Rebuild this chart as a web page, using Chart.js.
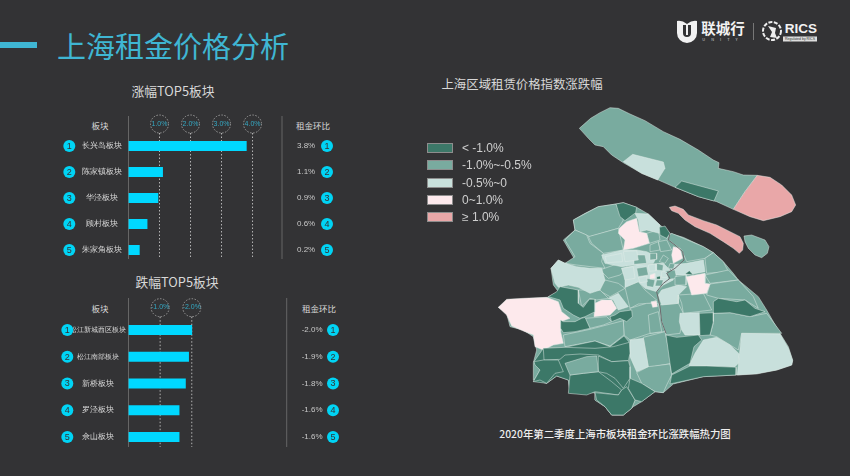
<!DOCTYPE html>
<html>
<head>
<meta charset="utf-8">
<script src="https://cdn.jsdelivr.net/npm/chart.js@4"></script>
<style>
  html, body { margin: 0; padding: 0; }
  body { width: 850px; height: 476px; background: #333335; overflow: hidden; position: relative;
         font-family: "Noto Sans CJK SC", "Noto Sans", sans-serif; }
  canvas { position: absolute; }
  .txt { position: absolute; white-space: nowrap; transform: translate(-50%, -50%); color: #d8d8d8; line-height: 1; }
  .swatch { position: absolute; left: 427px; width: 24px; height: 8px; border: 1px solid #8d8d8d; }
  .legend-label { position: absolute; left: 462px; transform: translateY(-50%); color: #cfcfcf; line-height: 1;
                  font: 12px "Liberation Sans", sans-serif; white-space: nowrap; }
</style>
</head>
<body>
<div style="position:absolute;left:0;top:42px;width:37px;height:6px;background:#3fb6d3"></div>
<div class="txt" style="left:173px;top:45px;font-size:29px;color:#3fb6d3">上海租金价格分析</div>

<div class="txt" style="left:173px;top:91px;font-size:12.8px">涨幅TOP5板块</div>
<div class="txt" style="left:100px;top:125px;font-size:8.5px">板块</div>
<div class="txt" style="left:313px;top:125px;font-size:8.5px">租金环比</div>
<div class="txt" style="left:177px;top:282px;font-size:12.8px">跌幅TOP5板块</div>
<div class="txt" style="left:100px;top:308px;font-size:8.5px">板块</div>
<div class="txt" style="left:319px;top:308px;font-size:8.5px">租金环比</div>
<div class="txt" style="left:522px;top:84px;font-size:12.4px">上海区域租赁价格指数涨跌幅</div>
<div class="txt" style="left:615px;top:434px;font-size:10.4px;font-weight:500;color:#eee">2020年第二季度上海市板块租金环比涨跌幅热力图</div>

<!-- logo -->
<svg style="position:absolute;left:674px;top:18px" width="26" height="26" viewBox="0 0 26 26">
  <path d="M3 3 Q8 2 13 6 Q18 2 23 3 V15 A10 10 0 0 1 3 15 Z" fill="#f2f2f2"/>
  <path d="M9 7 h8 v8 a4 4 0 0 1 -8 0 Z" fill="#333335"/>
  <rect x="12" y="6" width="2" height="11" fill="#f2f2f2"/>
</svg>
<div class="txt" style="left:723px;top:28px;font-size:14.5px;font-weight:700;color:#f2f2f2">联城行</div>
<div class="txt" style="left:723px;top:39px;font-size:4px;letter-spacing:6px;color:#ccc">UNITY</div>
<div style="position:absolute;left:753px;top:23px;width:1px;height:17px;background:#777"></div>
<svg style="position:absolute;left:761px;top:19px" width="22" height="24" viewBox="0 0 22 24">
  <circle cx="11" cy="12" r="9" fill="none" stroke="#eee" stroke-width="2" stroke-dasharray="4 1.5"/>
  <path d="M7 7 L15 9 L14 14 L16 19 L9 18 L11 13 Z" fill="#eee"/>
</svg>
<div class="txt" style="left:801px;top:28px;font:700 13.5px 'Liberation Sans',sans-serif;color:#f2f2f2">RICS</div>
<div class="txt" style="left:800px;top:39px;width:34px;height:5px;background:#ddd;font:3.5px 'Liberation Sans',sans-serif;line-height:5px;color:#333;text-align:center">Regulated by RICS</div>

<canvas id="riseChart" style="left:50px;top:100px"></canvas>
<canvas id="fallChart" style="left:50px;top:280px"></canvas>
<canvas id="mapChart" style="left:490px;top:100px"></canvas>

<div id="legend"></div>

<script>
// Top 5 risers
const riseNames = ["长兴岛板块", "陈家镇板块", "华泾板块", "顾村板块", "朱家角板块"];
const riseBars = [3.8, 1.1, 0.95, 0.6, 0.35];
const riseLabels = ["3.8%", "1.1%", "0.9%", "0.6%", "0.2%"];
const riseTicks = [1, 2, 3, 4];

// Top 5 fallers
const fallNames = ["松江新城西区板块", "松江南部板块", "新桥板块", "罗泾板块", "佘山板块"];
const fallBars = [-2.0, -1.9, -1.8, -1.6, -1.6];
const fallLabels = ["-2.0%", "-1.9%", "-1.8%", "-1.6%", "-1.6%"];
const fallTicks = [-1, -2];

// Legend
const legendNames = ["< -1.0%", "-1.0%~-0.5%", "-0.5%~0", "0~1.0%", "≥ 1.0%"];
const legendColors = ["#3c7868", "#79ab9f", "#c8e0dc", "#fde9ec", "#e9a7a8"];

// Map regions in map units, one list per colour class
const midRegions = [
  [[268,-215],[285,-230],[302,-245],[330,-262],[360,-277],[385,-275],[420,-258],[465,-238],[520,-205],[570,-182],[625,-150],[670,-120],[687,-112],[685,-95],[730,-85],[760,-75],[802,-74],[765,-25],[730,28],[680,5],[625,-10],[555,-38],[505,-60],[455,-80],[400,-112],[365,-135],[340,-160],[315,-165],[295,-185]],
  [[762,108],[785,105],[825,120],[837,140],[832,160],[815,173],[795,165],[775,145],[765,125]],
  // whole mainland first, the districts go on top of it
  [[250,60],[285,40],[325,20],[378,12],[400,8],[440,22],[475,42],[510,75],[540,100],[580,112],[640,140],[670,158],[700,185],[730,220],[745,240],[775,265],[805,290],[830,330],[870,400],[895,440],[908,480],[905,495],[860,510],[800,520],[740,525],[640,530],[550,552],[520,578],[495,575],[455,605],[430,620],[400,645],[365,645],[345,620],[315,600],[315,578],[240,578],[235,540],[200,528],[170,550],[130,540],[130,488],[140,450],[130,410],[100,390],[60,380],[50,340],[25,322],[60,300],[170,293],[205,275],[190,255],[183,205],[205,180],[225,190],[255,180],[220,120],[255,90]],
  [[250,60],[325,20],[378,12],[400,60],[385,85],[300,110],[255,90]],
  [[295,110],[385,85],[400,150],[340,160],[305,130]],
  [[225,120],[255,90],[290,105],[300,130],[340,160],[335,185],[345,205],[260,195],[225,190],[255,170]],
  [[530,115],[545,100],[640,140],[670,158],[645,175],[590,185],[575,150]],
  [[645,175],[670,158],[700,185],[715,215],[650,220]],
  [[645,225],[715,210],[745,240],[660,250]],
  [[660,252],[745,240],[790,290],[805,325],[765,300],[685,295],[650,285]],
  [[670,340],[720,338],[780,350],[830,340],[875,400],[755,400],[745,450],[680,410],[660,405],[670,370]],
  [[505,315],[565,310],[580,340],[570,400],[528,405],[515,365]],
  [[405,262],[445,245],[465,270],[500,300],[480,310],[445,312],[420,325]],
  [[345,240],[385,250],[405,265],[360,290],[325,270]],
  [[265,270],[330,270],[355,295],[320,300],[300,295],[275,320]],
  [[420,325],[470,310],[505,310],[515,365],[525,395],[480,400],[420,420],[402,405],[400,362],[425,350]],
  [[475,345],[505,335],[515,395],[480,400]],
  [[285,355],[350,350],[365,365],[340,375],[300,385]],
  [[220,405],[300,388],[400,362],[402,405],[360,438],[315,423],[225,440]],
  [[460,412],[525,395],[545,490],[475,503]],
  [[440,518],[475,500],[540,492],[545,525],[530,555],[520,578],[495,575],[455,550]],
  [[565,285],[640,280],[665,330],[580,340],[575,310]],
  [[330,210],[400,185],[415,205],[390,225],[355,235]],
  [[470,100],[505,90],[510,120],[478,130]]
];
const lightRegions = [
  [[400,-115],[428,-137],[520,-114],[525,-95],[503,-60],[455,-80]],
  [[183,205],[205,180],[225,190],[260,200],[300,205],[335,205],[345,240],[330,270],[300,280],[265,262],[235,255],[205,262],[195,250]],
  [[355,295],[385,280],[415,320],[385,330],[370,300]],
  [[420,420],[460,415],[475,500],[440,515],[420,470]],
  [[597,497],[615,460],[640,420],[680,412],[720,435],[748,462],[745,490],[735,500],[650,498]],
  [[755,400],[870,402],[895,445],[908,482],[905,495],[860,510],[800,522],[742,525],[748,465]],
  [[570,340],[628,338],[630,405],[585,405],[575,390],[568,365]],
  [[435,40],[475,42],[510,75],[508,100],[470,90],[450,95],[445,60]],
  [[335,165],[400,150],[440,150],[470,155],[500,170],[490,190],[430,195],[395,200],[345,190]],
  [[395,205],[440,195],[520,190],[540,210],[550,240],[520,255],[500,275],[465,265],[445,245],[405,262],[405,230]],
  [[540,195],[590,190],[640,180],[645,215],[590,225],[550,225]],
  [[515,270],[565,255],[590,260],[565,285],[565,310],[515,315],[505,285]]
];
const cityCells = [
  [[480,135],[505,125],[510,150],[480,155]],
  [[505,125],[530,120],[545,150],[512,155]],
  [[480,160],[500,160],[500,178],[480,180]],
  [[432,165],[465,165],[470,190],[432,193]],
  [[440,205],[470,200],[475,225],[445,230]],
  [[525,212],[555,210],[560,235],[535,238]],
  [[555,230],[590,225],[588,255],[555,255]],
  [[470,235],[495,240],[490,262],[468,258]],
  [[520,165],[535,175],[525,190],[508,185]],
  [[540,190],[555,192],[550,207],[535,205]],
  [[500,190],[520,195],[518,212],[498,210]],
  [[500,240],[520,240],[515,258],[495,258]]
];
const cityLightCells = [
  [[395,205],[430,200],[435,235],[405,240]],
  [[445,232],[470,228],[472,245],[450,248]],
  [[475,195],[498,192],[498,212],[478,214]],
  [[515,215],[530,215],[532,232],[515,232]],
  [[400,155],[440,152],[445,180],[405,185]],
  [[345,170],[395,160],[398,185],[350,188]]
];
const paleRegions = [
  [[25,322],[50,298],[100,295],[170,292],[205,305],[215,335],[240,355],[212,365],[212,395],[220,430],[190,435],[160,450],[135,440],[130,405],[105,395],[65,378],[50,345]],
  [[315,310],[335,300],[365,300],[380,325],[360,345],[312,350]],
  [[388,85],[410,65],[440,55],[448,95],[470,100],[478,130],[430,145],[400,150],[405,120],[385,100]],
  [[550,140],[570,145],[578,175],[550,190],[545,165]],
  [[588,230],[645,220],[645,250],[660,252],[650,280],[605,285]],
  [[480,225],[495,220],[495,235],[480,237]],
  [[483,305],[500,303],[502,320],[488,322]]
];
// south-west cluster is solid dark under the single districts
const darkBase = [
  [[132,485],[160,445],[225,442],[315,423],[360,440],[402,408],[418,427],[420,535],[435,600],[425,625],[400,645],[365,645],[345,620],[315,600],[315,578],[240,578],[235,540],[200,528],[170,550],[130,545],[150,510]]
];
const darkRegions = [
  [[555,-38],[575,-57],[685,-27],[672,3],[625,-10]],
  [[378,12],[400,8],[440,22],[437,38],[405,62],[390,50]],
  [[508,82],[525,78],[540,100],[530,115],[510,105]],
  [[175,290],[200,275],[210,260],[265,270],[265,310],[280,322],[298,298],[315,298],[315,335],[285,350],[270,355],[250,345],[220,325],[210,300]],
  [[212,360],[220,365],[255,365],[275,355],[285,352],[300,385],[255,395],[220,398],[212,385]],
  [[360,350],[375,345],[390,335],[425,330],[427,350],[410,365],[390,355],[365,365]],
  [[160,445],[225,442],[315,445],[370,440],[418,427],[420,460],[415,482],[365,485],[325,465],[270,462],[225,465],[210,478],[162,480]],
  [[132,485],[160,480],[205,480],[220,515],[195,520],[170,550],[150,540],[130,545],[150,510],[135,495]],
  [[235,580],[240,525],[280,520],[325,515],[365,545],[395,570],[385,585],[315,575],[290,585]],
  [[325,468],[365,485],[415,482],[420,500],[420,535],[400,565],[375,535],[350,520],[325,515]],
  [[315,578],[385,585],[395,570],[410,560],[435,600],[425,625],[400,645],[365,645],[345,620],[320,600]],
  [[420,535],[455,550],[495,575],[455,605],[435,600],[415,565]],
  [[528,405],[560,412],[625,405],[635,420],[612,440],[600,490],[545,522],[540,490]],
  [[540,552],[545,525],[600,498],[650,498],[740,502],[738,525],[640,530]],
  [[670,305],[685,295],[740,305],[765,300],[795,325],[825,335],[780,350],[720,338],[670,340]],
  [[628,340],[670,338],[670,365],[660,405],[630,407]],
  [[500,230],[512,228],[512,237],[500,238]],
  [[585,222],[598,212],[610,225]]
];
// mid patch sitting inside the dark cluster
const midOnDark = [
  [[225,490],[290,470],[320,468],[325,515],[280,520],[240,525]]
];
const pinkRegions = [
  [[802,-74],[840,-68],[875,-45],[905,-15],[917,15],[905,35],[870,50],[820,62],[780,50],[730,28],[765,-25]],
  [[538,22],[555,18],[580,28],[595,45],[640,62],[680,75],[720,95],[750,110],[760,130],[758,150],[748,160],[730,145],[700,125],[660,100],[615,80],[585,60],[565,40],[545,32]]
];
const riverLine = [[540,100],[535,120],[555,135],[578,155],[582,180],[555,205],[530,220],[540,235],[520,250],[500,275],[510,320],[515,365],[528,400]];

// Legend boxes
const legendBox = document.getElementById("legend");
legendNames.forEach((name, i) => {
  const rowY = 148 + i * 17.3;
  const swatch = document.createElement("div");
  swatch.className = "swatch";
  swatch.style.top = (rowY - 5) + "px";
  swatch.style.background = legendColors[i];
  legendBox.appendChild(swatch);
  const label = document.createElement("div");
  label.className = "legend-label";
  label.style.top = rowY + "px";
  label.textContent = name;
  legendBox.appendChild(label);
});

// Draws the dotted guides, the tick circles, the axis lines and the numbered badges
const rowDecor = {
  id: "rowDecor",
  beforeDatasetsDraw(chart, args, opts) {
    const { ctx, scales: { x, y } } = chart;
    ctx.save();
    // solid lines left and right
    ctx.strokeStyle = "#666";
    ctx.lineWidth = 1;
    [x.left, x.right].forEach((px) => {
      ctx.beginPath();
      ctx.moveTo(px, opts.lineTop);
      ctx.lineTo(px, opts.lineBottom);
      ctx.stroke();
    });
    // dotted guides with their circles
    x.ticks.forEach((tick) => {
      const px = x.getPixelForValue(tick.value);
      ctx.strokeStyle = "#b5b5b5";
      ctx.setLineDash([1.5, 2]);
      ctx.beginPath();
      ctx.moveTo(px, opts.ringY + 9);
      ctx.lineTo(px, opts.lineBottom);
      ctx.stroke();
      ctx.strokeStyle = "#9a9a9a";
      ctx.setLineDash([1.5, 1.5]);
      ctx.beginPath();
      ctx.arc(px, opts.ringY, 9, 0, Math.PI * 2);
      ctx.stroke();
    });
    ctx.setLineDash([]);
    // numbered badges on both sides of each row
    ctx.font = '9px "Liberation Sans", sans-serif';
    ctx.textAlign = "center";
    ctx.textBaseline = "middle";
    y.ticks.forEach((tick, i) => {
      const py = y.getPixelForTick(i);
      opts.badgeX.forEach((bx) => {
        ctx.fillStyle = "#00d4f5";
        ctx.beginPath();
        ctx.arc(bx, py, 6, 0, Math.PI * 2);
        ctx.fill();
        ctx.fillStyle = "#333335";
        ctx.fillText(String(i + 1), bx, py + 0.5);
      });
    });
    ctx.restore();
  }
};

function makeBarChart(id, names, bars, labels, ticks, cfg) {
  const canvas = document.getElementById(id);
  canvas.width = 300;
  canvas.height = cfg.height;
  return new Chart(canvas, {
    type: "bar",
    data: {
      labels: names,
      datasets: [{ data: bars, backgroundColor: "#00d8ff", barThickness: 9.5 }]
    },
    options: {
      indexAxis: "y",
      responsive: false,
      animation: false,
      layout: { padding: { bottom: cfg.paddingBottom } },
      plugins: {
        legend: { display: false },
        tooltip: { enabled: false },
        rowDecor: cfg.decor
      },
      scales: {
        x: {
          position: "top",
          min: cfg.min,
          max: cfg.max,
          reverse: cfg.reverse,
          grid: { display: false, drawTicks: false },
          border: { display: false },
          afterBuildTicks: (scale) => { scale.ticks = ticks.map((value) => ({ value })); },
          afterFit: (scale) => { scale.height = cfg.axisHeight; scale.paddingLeft = 0; scale.paddingRight = 0; },
          ticks: {
            color: "#35a9c4",
            padding: 5,
            maxRotation: 0,
            autoSkip: false,
            font: { size: 7, family: '"Liberation Sans", sans-serif' },
            callback: (value) => value.toFixed(1) + "%"
          }
        },
        y: {
          grid: { display: false, drawTicks: false },
          border: { display: false },
          afterFit: (scale) => { scale.width = 78.5; scale.paddingTop = 0; scale.paddingBottom = 0; },
          ticks: {
            color: "#d8d8d8",
            crossAlign: "center",
            padding: cfg.namePadding,
            autoSkip: false,
            font: cfg.nameFont
          }
        },
        y2: {
          type: "category",
          position: "right",
          labels: labels,
          offset: true,
          grid: { display: false, drawTicks: false },
          border: { display: false },
          afterFit: (scale) => { scale.width = cfg.rightWidth; scale.paddingTop = 0; scale.paddingBottom = 0; },
          ticks: {
            color: "#c8c8c8",
            crossAlign: "near",
            padding: 15,
            autoSkip: false,
            font: { size: 8, family: '"Liberation Sans", sans-serif' }
          }
        }
      }
    },
    plugins: [rowDecor]
  });
}

makeBarChart("riseChart", riseNames, riseBars, riseLabels, riseTicks, {
  height: 170, paddingBottom: 7, axisHeight: 33, rightWidth: 68,
  min: 0, max: 4.95, reverse: false, namePadding: 6.5,
  nameFont: { size: 8 },
  decor: { lineTop: 16, ringY: 24, lineBottom: 159, badgeX: [19.3, 277] }
});

makeBarChart("fallChart", fallNames, fallBars, fallLabels, fallTicks, {
  height: 180, paddingBottom: 9.6, axisHeight: 36.6, rightWidth: 63.3,
  min: -5, max: 0, reverse: true, namePadding: 2.5,
  nameFont: (ctx) => ({ size: ctx.index === 0 ? 6.5 : (ctx.index === 1 ? 7.3 : 8) }),
  decor: { lineTop: 18, ringY: 27.7, lineBottom: 167, badgeX: [17.3, 283] }
});

// Map drawn as filled shapes on a scatter chart
function regionDatasets(regions, color) {
  return regions.map((points) => ({
    data: points.concat([points[0]]).map(([x, y]) => ({ x, y })),
    showLine: true,
    fill: "shape",
    backgroundColor: color,
    borderColor: "rgba(225,235,232,0.6)",
    borderWidth: 0.8,
    pointRadius: 0,
    tension: 0
  }));
}

const mapDatasets = [
  ...regionDatasets(midRegions, legendColors[1]),
  ...regionDatasets(lightRegions, legendColors[2]),
  ...regionDatasets(cityCells, legendColors[1]),
  ...regionDatasets(cityLightCells, legendColors[2]),
  ...regionDatasets(paleRegions, legendColors[3]),
  ...regionDatasets(darkBase, legendColors[0]),
  ...regionDatasets(darkRegions, legendColors[0]),
  ...regionDatasets(midOnDark, legendColors[1]),
  ...regionDatasets(pinkRegions, legendColors[4]),
  {
    data: riverLine.map(([x, y]) => ({ x, y })),
    showLine: true,
    fill: false,
    borderColor: "#6b6b6d",
    borderWidth: 1,
    pointRadius: 0,
    tension: 0
  }
];

const mapCanvas = document.getElementById("mapChart");
mapCanvas.width = 320;
mapCanvas.height = 340;
new Chart(mapCanvas, {
  type: "scatter",
  // first dataset is painted last, so flip to keep the layering above
  data: { datasets: mapDatasets.reverse() },
  options: {
    responsive: false,
    animation: false,
    plugins: { legend: { display: false }, tooltip: { enabled: false } },
    scales: {
      x: { type: "linear", display: false, min: 0, max: 960 },
      y: { type: "linear", display: false, min: -300, max: 720, reverse: true }
    }
  }
});
</script>
</body>
</html>
